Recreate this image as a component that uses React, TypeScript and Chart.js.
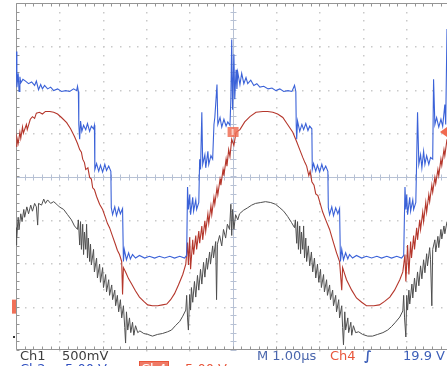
import React, { useEffect, useRef } from "react";
import { Chart, registerables } from "chart.js";
Chart.register(...registerables);

// Time axis in µs (trigger at 0), 1.00 µs/div
const timeMin = -5;
const timeMax = 4.95;
const vertDivs = [-4, 4];

// Channel settings (volts per division, ground offset in divisions)
const ch1Scale = 0.5;
const ch1Offset = -3.7;
const ch2Scale = 5;
const ch2Offset = -2;
const ch4Scale = 5;
const ch4Offset = -3;
const triggerLevel = 19.9; // V on Ch4

// Ch2 (blue) samples: [time µs, volts]
const ch2Samples: [number, number][] = [
  [-5.0, 24.4], [-4.98, 20.3], [-4.95, 21.9], [-4.93, 19.8], [-4.91, 21.5], [-4.89, 20.8], [-4.84, 21.2], [-4.78, 21.0],
  [-4.71, 20.7], [-4.64, 20.9], [-4.57, 20.5], [-4.53, 21.0], [-4.48, 20.0], [-4.43, 20.6], [-4.39, 20.1], [-4.34, 20.5],
  [-4.27, 20.1], [-4.2, 20.3], [-4.13, 19.9], [-4.04, 20.1], [-3.95, 19.8], [-3.85, 19.9], [-3.76, 19.8], [-3.67, 20.1],
  [-3.6, 19.9], [-3.58, 20.4], [-3.56, 19.8], [-3.55, 16.0], [-3.53, 14.3], [-3.51, 16.4], [-3.48, 15.2], [-3.44, 15.9],
  [-3.39, 15.4], [-3.35, 16.1], [-3.3, 15.2], [-3.26, 15.8], [-3.21, 15.5], [-3.19, 15.9], [-3.18, 10.8], [-3.14, 11.5],
  [-3.09, 10.6], [-3.05, 11.3], [-3.0, 10.5], [-2.95, 11.4], [-2.91, 10.7], [-2.86, 11.2], [-2.81, 10.6], [-2.8, 6.4],
  [-2.77, 5.6], [-2.72, 6.5], [-2.68, 5.5], [-2.63, 6.4], [-2.59, 5.7], [-2.54, 6.3], [-2.52, 0.2], [-2.5, 1.6],
  [-2.45, 0.4], [-2.4, 1.2], [-2.36, 0.5], [-2.31, 1.0], [-2.24, 0.6], [-2.15, 0.9], [-2.03, 0.6], [-1.92, 0.8],
  [-1.8, 0.6], [-1.69, 0.8], [-1.57, 0.6], [-1.45, 0.8], [-1.34, 0.6], [-1.22, 0.8], [-1.11, 0.6], [-1.06, 0.9],
  [-1.04, 8.8], [-1.02, 6.2], [-0.99, 7.9], [-0.97, 5.6], [-0.92, 7.6], [-0.9, 6.0], [-0.85, 7.3], [-0.83, 6.2],
  [-0.78, 7.0], [-0.76, 12.0], [-0.74, 10.8], [-0.71, 17.4], [-0.69, 11.4], [-0.64, 12.5], [-0.62, 11.0], [-0.57, 12.9],
  [-0.55, 11.4], [-0.5, 12.4], [-0.46, 12.0], [-0.43, 16.0], [-0.41, 16.8], [-0.36, 20.6], [-0.34, 16.0], [-0.29, 16.8],
  [-0.25, 15.7], [-0.2, 16.6], [-0.15, 15.8], [-0.11, 16.3], [-0.06, 15.9], [-0.04, 18.9], [-0.02, 25.8], [0.0, 17.7],
  [0.03, 24.1], [0.05, 18.9], [0.08, 22.3], [0.1, 20.1], [0.12, 22.0], [0.17, 20.6], [0.21, 21.9], [0.26, 20.7],
  [0.31, 21.4], [0.35, 20.7], [0.42, 21.1], [0.49, 20.5], [0.56, 20.7], [0.63, 20.3], [0.72, 20.4], [0.82, 20.1],
  [0.91, 20.2], [1.0, 19.9], [1.09, 20.1], [1.18, 19.8], [1.28, 19.9], [1.37, 19.8], [1.43, 20.5], [1.46, 19.8],
  [1.47, 15.8], [1.48, 14.3], [1.5, 16.4], [1.55, 15.2], [1.6, 16.0], [1.64, 15.4], [1.69, 16.1], [1.74, 15.3],
  [1.78, 15.8], [1.83, 15.5], [1.84, 10.8], [1.87, 11.5], [1.92, 10.6], [1.96, 11.3], [2.01, 10.5], [2.06, 11.4],
  [2.1, 10.7], [2.15, 11.2], [2.2, 10.6], [2.21, 6.4], [2.24, 5.6], [2.29, 6.5], [2.33, 5.5], [2.38, 6.4],
  [2.43, 5.7], [2.47, 6.3], [2.49, 0.2], [2.52, 1.6], [2.56, 0.4], [2.61, 1.2], [2.66, 0.5], [2.7, 1.0],
  [2.77, 0.6], [2.86, 0.9], [2.98, 0.6], [3.09, 0.8], [3.21, 0.6], [3.33, 0.8], [3.44, 0.6], [3.56, 0.8],
  [3.67, 0.6], [3.79, 0.8], [3.9, 0.6], [3.95, 0.9], [3.98, 8.8], [4.0, 6.2], [4.02, 7.9], [4.04, 5.6],
  [4.09, 7.6], [4.11, 6.0], [4.16, 7.3], [4.18, 6.2], [4.23, 7.0], [4.25, 12.0], [4.27, 17.4], [4.3, 11.4],
  [4.34, 12.5], [4.37, 11.0], [4.41, 12.9], [4.44, 11.4], [4.48, 12.4], [4.53, 11.4], [4.57, 12.2], [4.62, 12.0],
  [4.64, 21.2], [4.67, 16.0], [4.71, 16.8], [4.76, 15.7], [4.81, 16.6], [4.85, 15.8], [4.9, 18.3], [4.92, 16.0],
  [4.95, 27.0],
];

// Ch4 (red) samples: [time µs, volts]
const ch4Samples: [number, number][] = [
  [-5.0, 18.5], [-4.98, 19.5], [-4.95, 18.8], [-4.91, 20.1], [-4.89, 19.4], [-4.85, 20.7], [-4.83, 20.0], [-4.76, 21.0],
  [-4.74, 20.4], [-4.67, 21.6], [-4.62, 21.9], [-4.57, 21.7], [-4.53, 22.3], [-4.46, 22.4], [-4.39, 22.2], [-4.32, 22.5],
  [-4.22, 22.5], [-4.13, 22.4], [-4.04, 22.2], [-3.95, 21.8], [-3.83, 21.2], [-3.74, 20.5], [-3.65, 19.6], [-3.58, 18.8],
  [-3.53, 18.1], [-3.49, 17.8], [-3.46, 17.0], [-3.42, 16.6], [-3.39, 15.8], [-3.34, 16.0], [-3.3, 14.9], [-3.26, 14.7],
  [-3.23, 13.7], [-3.19, 13.5], [-3.14, 12.7], [-3.07, 11.8], [-3.0, 11.2], [-2.93, 10.2], [-2.89, 9.6], [-2.84, 9.1],
  [-2.77, 8.1], [-2.7, 7.1], [-2.66, 6.5], [-2.61, 6.0], [-2.56, 5.2], [-2.54, 1.4], [-2.52, 4.5], [-2.47, 4.0],
  [-2.4, 3.2], [-2.33, 2.6], [-2.24, 1.8], [-2.15, 1.1], [-2.05, 0.6], [-1.96, 0.2], [-1.85, 0.1], [-1.73, 0.1],
  [-1.62, 0.2], [-1.52, 0.3], [-1.43, 0.8], [-1.34, 1.5], [-1.25, 2.5], [-1.15, 3.7], [-1.08, 4.9], [-1.04, 7.4],
  [-1.02, 4.8], [-0.99, 8.0], [-0.97, 4.3], [-0.92, 7.7], [-0.9, 6.0], [-0.85, 8.2], [-0.83, 6.6], [-0.78, 8.7],
  [-0.76, 7.3], [-0.71, 9.3], [-0.69, 7.7], [-0.64, 9.9], [-0.62, 8.7], [-0.57, 10.7], [-0.55, 9.6], [-0.5, 11.6],
  [-0.48, 10.6], [-0.43, 12.6], [-0.41, 11.8], [-0.36, 13.7], [-0.34, 12.9], [-0.29, 14.7], [-0.27, 14.0], [-0.22, 15.8],
  [-0.2, 15.1], [-0.15, 17.0], [-0.13, 16.2], [-0.09, 18.1], [-0.06, 17.3], [-0.02, 19.3], [0.03, 18.6], [0.08, 20.1],
  [0.17, 20.4], [0.28, 21.3], [0.4, 21.9], [0.54, 22.4], [0.7, 22.5], [0.81, 22.5], [0.93, 22.4], [1.04, 22.2],
  [1.16, 21.8], [1.27, 21.0], [1.39, 20.1], [1.48, 19.0], [1.55, 18.1], [1.62, 17.2], [1.67, 16.6], [1.71, 16.2],
  [1.76, 15.1], [1.79, 15.6], [1.83, 14.4], [1.88, 14.0], [1.92, 13.0], [1.97, 12.8], [2.01, 12.1], [2.08, 10.9],
  [2.15, 10.0], [2.24, 8.9], [2.31, 7.7], [2.4, 6.2], [2.47, 5.2], [2.52, 1.9], [2.54, 4.5], [2.63, 3.1],
  [2.75, 1.9], [2.86, 1.0], [2.98, 0.5], [3.09, 0.1], [3.26, 0.1], [3.39, 0.2], [3.51, 0.6], [3.63, 1.1],
  [3.74, 1.9], [3.86, 3.1], [3.93, 4.0], [3.98, 6.0], [4.0, 2.9], [4.04, 7.1], [4.07, 3.7], [4.11, 7.5],
  [4.13, 5.6], [4.18, 8.2], [4.2, 6.6], [4.25, 9.1], [4.27, 7.7], [4.32, 10.0], [4.34, 8.9], [4.39, 10.9],
  [4.41, 9.8], [4.46, 12.0], [4.48, 10.9], [4.53, 12.9], [4.55, 12.1], [4.6, 14.0], [4.62, 13.2], [4.67, 14.9],
  [4.69, 14.2], [4.74, 15.8], [4.76, 15.1], [4.81, 17.0], [4.83, 16.3], [4.88, 18.1], [4.9, 17.4], [4.95, 19.3],
];

// Ch1 (grey) samples: [time µs, volts]
const ch1Samples: [number, number][] = [
  [-5.0, 1.06], [-4.99, 1.26], [-4.98, 1.15], [-4.95, 1.38], [-4.93, 1.24], [-4.89, 1.42], [-4.86, 1.33], [-4.82, 1.47],
  [-4.8, 1.38], [-4.75, 1.5], [-4.71, 1.42], [-4.66, 1.52], [-4.62, 1.45], [-4.57, 1.54], [-4.53, 1.5], [-4.5, 1.29],
  [-4.48, 1.54], [-4.41, 1.52], [-4.36, 1.59], [-4.32, 1.54], [-4.27, 1.58], [-4.2, 1.54], [-4.13, 1.56], [-4.06, 1.53],
  [-4.0, 1.5], [-3.9, 1.47], [-3.81, 1.41], [-3.72, 1.35], [-3.65, 1.28], [-3.58, 1.24], [-3.56, 1.35], [-3.53, 1.06],
  [-3.51, 1.33], [-3.49, 1.01], [-3.46, 1.3], [-3.44, 0.95], [-3.42, 1.21], [-3.39, 1.01], [-3.37, 1.3], [-3.35, 0.91],
  [-3.33, 1.14], [-3.3, 0.87], [-3.28, 1.07], [-3.26, 0.83], [-3.21, 1.01], [-3.19, 0.75], [-3.14, 0.91], [-3.12, 0.68],
  [-3.07, 0.84], [-3.05, 0.63], [-3.0, 0.8], [-2.98, 0.57], [-2.93, 0.72], [-2.91, 0.52], [-2.86, 0.66], [-2.84, 0.48],
  [-2.79, 0.6], [-2.77, 0.43], [-2.72, 0.54], [-2.7, 0.36], [-2.66, 0.48], [-2.63, 0.29], [-2.59, 0.43], [-2.56, 0.22],
  [-2.52, 0.36], [-2.49, 0.11], [-2.47, -0.07], [-2.45, 0.29], [-2.42, 0.08], [-2.38, 0.22], [-2.35, 0.05], [-2.31, 0.17],
  [-2.28, 0.02], [-2.24, 0.13], [-2.19, 0.05], [-2.14, 0.07], [-2.05, 0.04], [-1.96, 0.03], [-1.85, 0.01], [-1.73, 0.03],
  [-1.62, 0.04], [-1.5, 0.06], [-1.41, 0.08], [-1.32, 0.13], [-1.22, 0.18], [-1.15, 0.24], [-1.08, 0.31], [-1.06, 0.48],
  [-1.04, 0.22], [-1.02, 0.08], [-0.99, 0.49], [-0.97, 0.31], [-0.95, 0.57], [-0.92, 0.4], [-0.88, 0.64], [-0.85, 0.46],
  [-0.81, 0.71], [-0.78, 0.54], [-0.74, 0.78], [-0.71, 0.61], [-0.67, 0.86], [-0.64, 0.69], [-0.6, 0.91], [-0.58, 0.78],
  [-0.53, 0.98], [-0.51, 0.84], [-0.46, 1.05], [-0.44, 0.91], [-0.39, 1.1], [-0.37, 0.43], [-0.35, 1.07], [-0.3, 1.17],
  [-0.25, 1.05], [-0.21, 1.24], [-0.16, 1.14], [-0.12, 1.3], [-0.07, 1.24], [-0.04, 1.53], [-0.02, 1.17], [0.0, 1.47],
  [0.03, 1.24], [0.07, 1.41], [0.12, 1.35], [0.16, 1.42], [0.25, 1.46], [0.35, 1.49], [0.44, 1.52], [0.53, 1.54],
  [0.65, 1.55], [0.76, 1.56], [0.88, 1.55], [0.99, 1.53], [1.09, 1.49], [1.18, 1.45], [1.27, 1.39], [1.36, 1.32],
  [1.43, 1.26], [1.45, 1.35], [1.48, 1.08], [1.5, 1.33], [1.52, 1.01], [1.55, 1.28], [1.57, 0.96], [1.59, 1.21],
  [1.62, 1.01], [1.64, 1.28], [1.66, 0.91], [1.69, 1.14], [1.71, 0.87], [1.75, 1.05], [1.78, 0.82], [1.82, 0.98],
  [1.85, 0.75], [1.89, 0.91], [1.92, 0.68], [1.96, 0.84], [1.99, 0.63], [2.03, 0.78], [2.05, 0.57], [2.1, 0.72],
  [2.12, 0.52], [2.17, 0.66], [2.19, 0.48], [2.24, 0.6], [2.26, 0.43], [2.31, 0.54], [2.33, 0.36], [2.38, 0.48],
  [2.4, 0.29], [2.45, 0.43], [2.47, 0.22], [2.52, 0.36], [2.54, 0.11], [2.56, -0.09], [2.59, 0.29], [2.61, 0.08],
  [2.66, 0.22], [2.68, 0.05], [2.73, 0.17], [2.75, 0.02], [2.79, 0.13], [2.84, 0.05], [2.91, 0.06], [3.0, 0.03],
  [3.12, 0.01], [3.23, 0.01], [3.35, 0.03], [3.47, 0.05], [3.58, 0.08], [3.67, 0.12], [3.76, 0.17], [3.86, 0.23],
  [3.93, 0.3], [3.95, 0.48], [3.97, 0.22], [4.0, 0.0], [4.02, 0.48], [4.04, 0.31], [4.07, 0.54], [4.09, 0.38],
  [4.14, 0.61], [4.16, 0.45], [4.2, 0.68], [4.23, 0.52], [4.27, 0.75], [4.3, 0.59], [4.34, 0.82], [4.37, 0.67],
  [4.41, 0.89], [4.44, 0.74], [4.48, 0.96], [4.5, 0.82], [4.55, 1.03], [4.57, 0.89], [4.6, 0.36], [4.62, 1.01],
  [4.67, 1.12], [4.69, 0.98], [4.74, 1.16], [4.76, 1.03], [4.81, 1.24], [4.83, 1.13], [4.88, 1.28], [4.9, 1.19],
  [4.95, 1.33],
];

const toDivs = (samples: [number, number][], scale: number, offset: number) =>
  samples.map(([t, v]) => ({ x: t, y: v / scale + offset }));

const gridPlugin = {
  id: "scopeGrid",
  beforeDatasetsDraw(chart: any) {
    const { ctx, chartArea: a, scales } = chart;
    const xs = scales.x;
    const ys = scales.y;
    ctx.save();
    // dotted graticule
    ctx.fillStyle = "#c9c9c9";
    for (let g = -4; g <= 4; g++) {
      if (g === 0) continue;
      const px = Math.round(xs.getPixelForValue(g));
      for (let d = -4; d <= 4.001; d += 0.2) {
        const py = Math.round(ys.getPixelForValue(d));
        ctx.fillRect(px, py, 1.5, 1.5);
      }
    }
    for (let g = -3; g <= 3; g++) {
      if (g === 0) continue;
      const py = Math.round(ys.getPixelForValue(g));
      for (let t = -5; t <= 5.001; t += 0.2) {
        const px = Math.round(xs.getPixelForValue(t));
        if (px > a.right) break;
        ctx.fillRect(px, py, 1.5, 1.5);
      }
    }
    // center axes with minor ticks
    ctx.strokeStyle = "#b7c1d4";
    ctx.lineWidth = 1;
    const cy = Math.round(ys.getPixelForValue(0)) + 0.5;
    const cx = Math.round(xs.getPixelForValue(0)) + 0.5;
    ctx.beginPath();
    ctx.moveTo(a.left, cy);
    ctx.lineTo(a.right, cy);
    ctx.moveTo(cx, a.top);
    ctx.lineTo(cx, a.bottom);
    for (let t = -5; t <= 5.001; t += 0.2) {
      const px = Math.round(xs.getPixelForValue(t)) + 0.5;
      if (px > a.right) break;
      ctx.moveTo(px, cy - 3);
      ctx.lineTo(px, cy + 3);
    }
    for (let d = -4; d <= 4.001; d += 0.2) {
      const py = Math.round(ys.getPixelForValue(d)) + 0.5;
      ctx.moveTo(cx - 3, py);
      ctx.lineTo(cx + 3, py);
    }
    ctx.stroke();
    // border with ticks
    ctx.strokeStyle = "#959595";
    ctx.beginPath();
    const top = Math.round(a.top) + 0.5;
    const bot = Math.round(a.bottom) - 0.5;
    const left = Math.round(a.left) + 0.5;
    ctx.moveTo(a.right, top);
    ctx.lineTo(left, top);
    ctx.lineTo(left, bot);
    ctx.lineTo(a.right, bot);
    for (let t = -5; t <= 5.001; t += 0.2) {
      const px = Math.round(xs.getPixelForValue(t)) + 0.5;
      if (px > a.right) break;
      ctx.moveTo(px, top);
      ctx.lineTo(px, top + 3);
      ctx.moveTo(px, bot);
      ctx.lineTo(px, bot - 3);
    }
    for (let d = -4; d <= 4.001; d += 0.2) {
      const py = Math.round(ys.getPixelForValue(d)) + 0.5;
      ctx.moveTo(left, py);
      ctx.lineTo(left + 3, py);
    }
    ctx.stroke();
    ctx.restore();
  },
  afterDatasetsDraw(chart: any) {
    const { ctx, chartArea: a, scales } = chart;
    const xs = scales.x;
    const ys = scales.y;
    ctx.save();
    const ty = ys.getPixelForValue(triggerLevel / ch4Scale + ch4Offset) - 2;
    const tx = xs.getPixelForValue(0);
    // trigger position / level marker
    ctx.fillStyle = "rgba(240,110,85,0.85)";
    ctx.fillRect(tx - 5, ty - 5, 11, 10);
    ctx.fillStyle = "#fbd2c8";
    ctx.fillRect(tx - 1, ty - 3, 2, 6);
    // trigger level arrow at right edge
    ctx.fillStyle = "#f06a50";
    ctx.beginPath();
    ctx.moveTo(a.right - 7, ty);
    ctx.lineTo(a.right, ty - 5);
    ctx.lineTo(a.right, ty + 5);
    ctx.closePath();
    ctx.fill();
    // Ch4 ground marker
    const g4 = ys.getPixelForValue(ch4Offset);
    ctx.fillStyle = "#f07058";
    ctx.fillRect(a.left - 4, g4 - 7, 4, 14);
    // Ch1 ground marker
    const g1 = ys.getPixelForValue(ch1Offset);
    ctx.fillStyle = "#333";
    ctx.fillRect(a.left - 3, g1 - 1, 2, 2);
    ctx.restore();
  },
};

export default function App() {
  const ref = useRef<HTMLCanvasElement>(null);
  useEffect(() => {
    const chart = new Chart(ref.current as HTMLCanvasElement, {
      type: "scatter",
      data: {
        datasets: [
          {
            label: "Ch2",
            data: toDivs(ch2Samples, ch2Scale, ch2Offset),
            borderColor: "#3b62d8",
            borderWidth: 1.1,
            showLine: true,
            pointRadius: 0,
            tension: 0,
          },
          {
            label: "Ch4",
            data: toDivs(ch4Samples, ch4Scale, ch4Offset),
            borderColor: "#b5372c",
            borderWidth: 1.1,
            showLine: true,
            pointRadius: 0,
            tension: 0,
          },
          {
            label: "Ch1",
            data: toDivs(ch1Samples, ch1Scale, ch1Offset),
            borderColor: "#4e4e4e",
            borderWidth: 1,
            showLine: true,
            pointRadius: 0,
            tension: 0,
          },
        ],
      },
      options: {
        animation: false,
        responsive: false,
        devicePixelRatio: 1,
        events: [],
        layout: { padding: { left: 16, top: 3, right: 0, bottom: 16 } },
        plugins: { legend: { display: false }, tooltip: { enabled: false } },
        scales: {
          x: { type: "linear", min: timeMin, max: timeMax, display: false },
          y: { type: "linear", min: vertDivs[0], max: vertDivs[1], display: false },
        },
      },
      plugins: [gridPlugin],
    });
    return () => chart.destroy();
  }, []);

  const base: React.CSSProperties = { position: "absolute", whiteSpace: "pre" };
  return (
    <div
      style={{
        position: "fixed",
        left: 0,
        top: 0,
        width: 447,
        height: 366,
        overflow: "hidden",
        background: "#fff",
        fontFamily: '"DejaVu Sans", sans-serif',
        fontSize: 13,
        lineHeight: "13px",
      }}
    >
      <canvas ref={ref} width={447} height={366} style={{ display: "block", width: 447, height: 366 }} />
      <span style={{ ...base, left: 20, top: 348.5, color: "#3c3c3c" }}>Ch1</span>
      <span style={{ ...base, left: 62, top: 348.5, color: "#3c3c3c" }}>500mV</span>
      <span style={{ ...base, left: 257, top: 348.5, color: "#4a66ad" }}>M 1.00µs</span>
      <span style={{ ...base, left: 330, top: 348.5, color: "#e8553a" }}>Ch4</span>
      <span style={{ ...base, left: 364, top: 348.5, color: "#3d5fb8", fontWeight: "bold" }}>∫</span>
      <span style={{ ...base, left: 403, top: 348.5, color: "#3d5fb8" }}>19.9 V</span>
      <span style={{ ...base, left: 20, top: 361.5, color: "#3050c0" }}>Ch2</span>
      <span style={{ ...base, left: 65, top: 361.5, color: "#3050c0" }}>5.00 V</span>
      <span
        style={{
          ...base,
          left: 139,
          top: 360.5,
          color: "#fff",
          background: "#ef7a66",
          border: "1px solid #e8553a",
          padding: "0 1px",
        }}
      >
        Ch4
      </span>
      <span style={{ ...base, left: 185, top: 361.5, color: "#e8553a" }}>5.00 V</span>
    </div>
  );
}
